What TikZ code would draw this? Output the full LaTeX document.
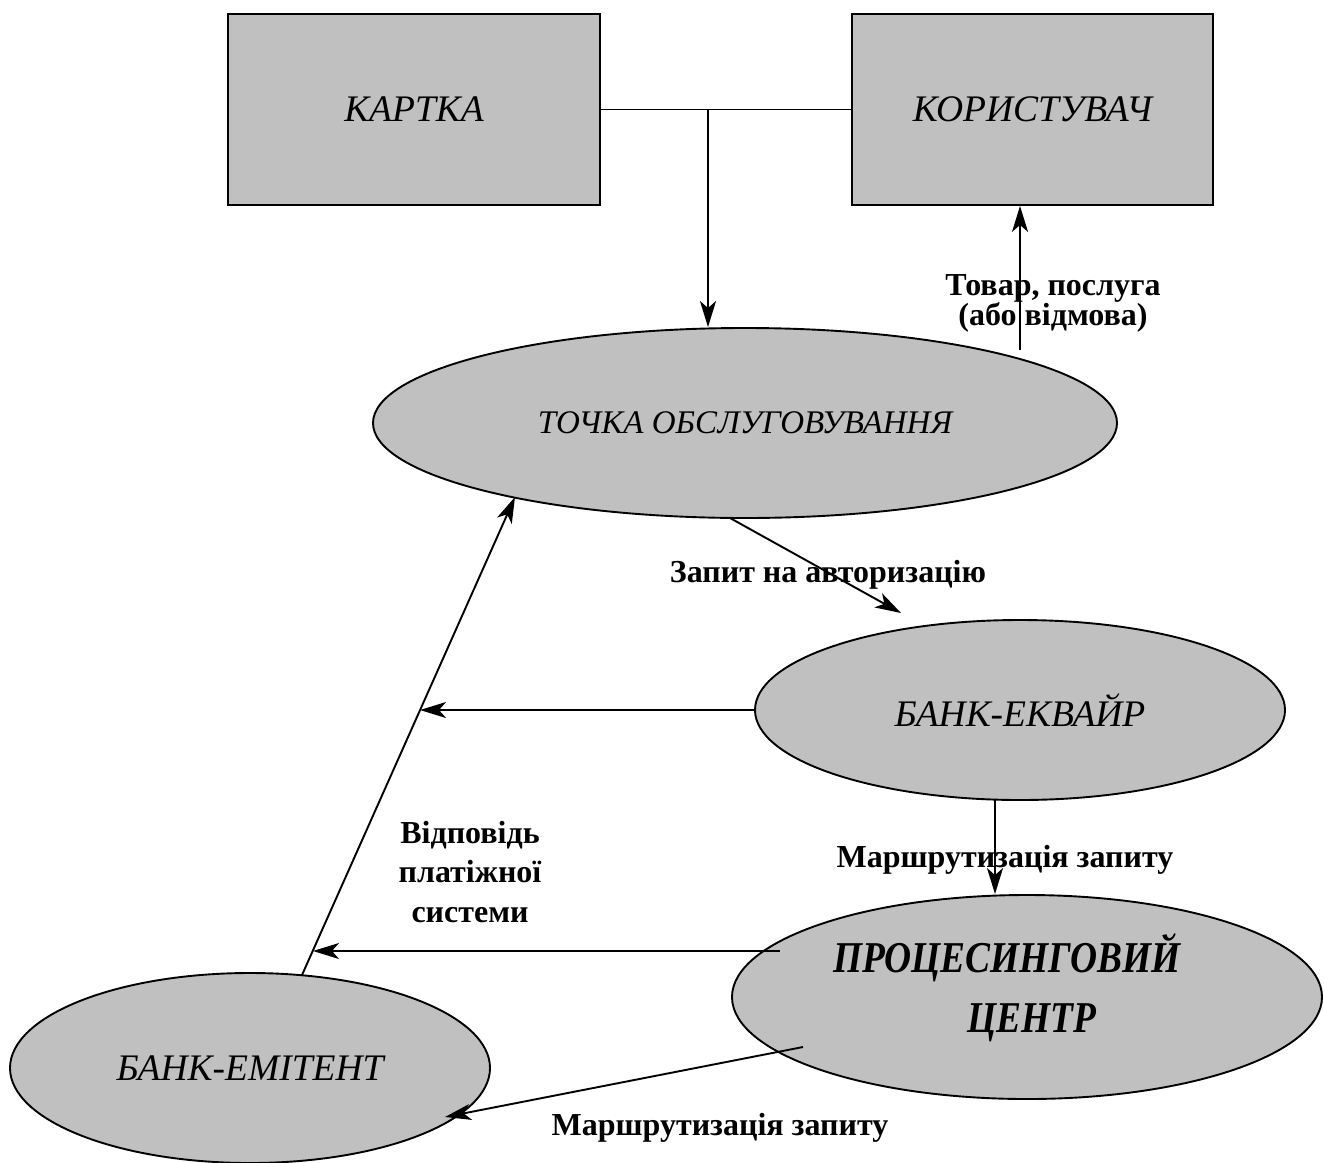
\documentclass[tikz,border=0pt]{standalone}
\usepackage{fontspec}
\usepackage{graphicx}
\setmainfont{Liberation Serif}
\usetikzlibrary{shapes.geometric,arrows.meta}
\definecolor{unitgray}{HTML}{C0C0C0}
\newcommand\unitfont{\fontsize{37.5}{40}\selectfont\itshape}
\newcommand\procfont{\fontsize{44}{60}\selectfont\bfseries\itshape}
\newcommand\notefont{\fontsize{32}{30}\selectfont\bfseries}
\newcommand\narrow[1]{\scalebox{0.85}[1]{#1}}
\begin{document}
\begin{tikzpicture}[x=1pt,y=-1pt,
  unit/.style={draw=black, fill=unitgray, line width=1.9pt, inner sep=0pt, font=\unitfont},
  rectunit/.style={unit, rectangle},
  ovalunit/.style={unit, ellipse},
  conn/.style={line width=1.9pt},
  arr/.style={conn, -{Stealth[length=26pt,width=16pt,inset=7pt]}},
  note/.style={font=\notefont, align=center, inner sep=0pt}]
\useasboundingbox (0,0) rectangle (1324,1162);

% participants
\node[rectunit, minimum width=372pt, minimum height=191pt] (card) at (414,109.5) {КАРТКА};
\node[rectunit, minimum width=361pt, minimum height=191pt] (user) at (1032.5,109.5) {КОРИСТУВАЧ};
\node[ovalunit, minimum width=744pt, minimum height=190pt,
      font=\fontsize{33}{40}\selectfont\itshape] (pos) at (745,423) {ТОЧКА ОБСЛУГОВУВАННЯ};
\node[ovalunit, minimum width=530pt, minimum height=180pt] (acq) at (1020,710) {БАНК-ЕКВАЙР};
\node[ovalunit, minimum width=590pt, minimum height=204pt] (proc) at (1027,997) {};
\node[font=\procfont, align=center, inner sep=0pt] (proctext) at (1007,988)
  {\narrow{ПРОЦЕСИНГОВИЙ}\\\hspace*{50pt}\narrow{ЦЕНТР}};
\node[ovalunit, minimum width=480pt, minimum height=190pt] (iss) at (250,1068) {БАНК-ЕМІТЕНТ};

% labels
\node[note] (goodsnote) at (1053,303) {Товар, послуга\\(або відмова)};
\node[note] (reqnote) at (828,575) {Запит на авторизацію};
\node[note] (routenoteA) at (1005,860) {Маршрутизація запиту};
\node[note, font=\fontsize{32}{39.5}\selectfont\bfseries] (respnote) at (470,872) {Відповідь\\платіжної\\системи};
\node[note] (routenoteB) at (720,1128) {Маршрутизація запиту};

% connection points
\coordinate (split) at (708,109.5);
\coordinate (goodsfoot) at (1020,350);
\coordinate (reqstart) at (730,518);
\coordinate (reqtip) at (901,613);
\coordinate (acqtip) at (420,710);
\coordinate (routefoot) at (995,800);
\coordinate (respstart) at (780,951);
\coordinate (resptip) at (313,951);
\coordinate (issup) at (302,975);
\coordinate (postip) at (515,497);
\coordinate (routestart) at (803,1047);
\coordinate (isstip) at (445,1117);

% connectors
\draw[conn] (card.east) -- (user.west);
\draw[arr] (split) -- (split |- pos.north);
\draw[arr] (goodsfoot) -- (goodsfoot |- user.south);
\draw[arr] (reqstart) -- (reqtip);
\draw[arr] (acq.west) -- (acqtip);
\draw[arr] (routefoot) -- (routefoot |- proc.north);
\draw[arr] (respstart) -- (resptip);
\draw[arr] (issup) -- (postip);
\draw[arr] (routestart) -- (isstip);
\end{tikzpicture}
\end{document}
